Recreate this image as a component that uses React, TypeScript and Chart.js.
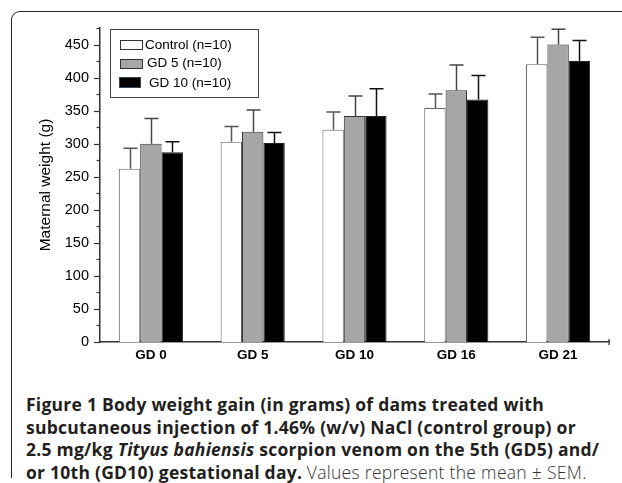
import React, { useEffect, useRef } from "react";
import { Chart, registerables } from "chart.js";

Chart.register(...registerables);

const categories = ["GD 0", "GD 5", "GD 10", "GD 16", "GD 21"];
const seriesNames = ["Control (n=10)", "GD 5 (n=10)", "GD 10 (n=10)"];
const controlMeans = [262, 303, 321, 354, 420];
const gd5Means = [300, 318, 342, 381, 450];
const gd10Means = [287, 301, 342, 367, 425];
const controlSem = [31, 23, 27, 21, 41];
const gd5Sem = [38, 33, 30, 38, 23];
const gd10Sem = [16, 16, 41, 36, 31];
const yTickValues = [0, 50, 100, 150, 200, 250, 300, 350, 400, 450];

const fills = ["#ffffff", "#a6a6a6", "#000000"];
const borders = ["#666666", "#333333", "#222222"];
const errColors = ["#555555", "#444444", "#111111"];

const semList = [controlSem, gd5Sem, gd10Sem];

const errorBarPlugin = {
  id: "errorBars",
  afterDatasetsDraw(chart: any) {
    const ctx = chart.ctx;
    const yScale = chart.scales.y;
    chart.data.datasets.forEach((ds: any, di: number) => {
      const meta = chart.getDatasetMeta(di);
      meta.data.forEach((bar: any, i: number) => {
        const v = ds.data[i];
        const e = semList[di][i];
        const yTop = yScale.getPixelForValue(v + e);
        const x = Math.round(bar.x) + 0.5;
        ctx.save();
        ctx.strokeStyle = errColors[di];
        ctx.lineWidth = 1.5;
        ctx.beginPath();
        ctx.moveTo(x, bar.y);
        ctx.lineTo(x, yTop);
        ctx.moveTo(x - 7, yTop);
        ctx.lineTo(x + 7, yTop);
        ctx.stroke();
        ctx.restore();
      });
    });
  },
};

const axisDecorPlugin = {
  id: "axisDecor",
  afterDraw(chart: any) {
    const ctx = chart.ctx;
    const yScale = chart.scales.y;
    const area = chart.chartArea;
    ctx.save();
    ctx.strokeStyle = "#333333";
    ctx.lineWidth = 1.2;
    for (let v = 0; v <= yScale.max; v += 25) {
      const y = Math.round(yScale.getPixelForValue(v)) + 0.5;
      const len = v % 50 === 0 ? 6 : 3.5;
      ctx.beginPath();
      ctx.moveTo(area.left - len, y);
      ctx.lineTo(area.left, y);
      ctx.stroke();
    }
    ctx.beginPath();
    ctx.moveTo(area.right, area.bottom - 3);
    ctx.lineTo(area.right, area.bottom + 3);
    ctx.stroke();

    const lx = area.left + 10;
    const ly = area.top + 1;
    const lw = 148;
    const lh = 68;
    ctx.strokeStyle = "#444444";
    ctx.lineWidth = 1;
    ctx.strokeRect(lx + 0.5, ly + 0.5, lw, lh);
    const rows = [
      { sx: lx + 10, sy: ly + 11, sw: 22, sh: 9, tx: lx + 35, ty: ly + 16 },
      { sx: lx + 10, sy: ly + 30, sw: 22, sh: 9, tx: lx + 37, ty: ly + 34.5 },
      { sx: lx + 9, sy: ly + 48, sw: 21, sh: 10, tx: lx + 39, ty: ly + 54 },
    ];
    ctx.font = "13.5px Arial, 'Liberation Sans', sans-serif";
    ctx.textBaseline = "middle";
    ctx.textAlign = "left";
    rows.forEach((r, i) => {
      ctx.fillStyle = fills[i];
      ctx.fillRect(r.sx, r.sy, r.sw, r.sh);
      ctx.strokeStyle = i === 2 ? "#334455" : "#333333";
      ctx.lineWidth = 1;
      ctx.strokeRect(r.sx + 0.5, r.sy + 0.5, r.sw, r.sh);
      ctx.fillStyle = "#000000";
      ctx.fillText(seriesNames[i], r.tx, r.ty);
    });
    ctx.restore();
  },
};

export default function App() {
  const canvasRef = useRef<HTMLCanvasElement | null>(null);

  useEffect(() => {
    const canvas = canvasRef.current;
    if (!canvas) return;
    const chart = new Chart(canvas, {
      type: "bar",
      data: {
        labels: categories,
        datasets: [
          { label: seriesNames[0], data: controlMeans, backgroundColor: fills[0], borderColor: borders[0], borderWidth: 1 },
          { label: seriesNames[1], data: gd5Means, backgroundColor: fills[1], borderColor: borders[1], borderWidth: 1 },
          { label: seriesNames[2], data: gd10Means, backgroundColor: fills[2], borderColor: borders[2], borderWidth: 1 },
        ],
      },
      options: {
        animation: false,
        responsive: false,
        maintainAspectRatio: false,
        devicePixelRatio: 1,
        layout: { padding: { left: 36, right: 13, top: 28, bottom: 0 } },
        datasets: { bar: { categoryPercentage: 0.63, barPercentage: 1 } },
        plugins: {
          legend: { display: false },
          tooltip: { enabled: false },
        },
        scales: {
          x: {
            grid: { display: false, drawTicks: false },
            border: { display: true, color: "#333333", width: 1.5 },
            ticks: {
              color: "#000000",
              padding: 5,
              font: { family: "Arial, 'Liberation Sans', sans-serif", size: 13.5, weight: "bold" },
            },
            afterFit(scale: any) {
              scale.height = 28;
            },
          },
          y: {
            min: 0,
            max: 475,
            afterBuildTicks(scale: any) {
              scale.ticks = yTickValues.map((v) => ({ value: v }));
            },
            grid: { display: false, drawTicks: false },
            border: { display: true, color: "#333333", width: 1.5 },
            ticks: {
              color: "#000000",
              padding: 11,
              font: { family: "Arial, 'Liberation Sans', sans-serif", size: 14.5 },
            },
            title: {
              display: true,
              text: "Maternal weight (g)",
              color: "#000000",
              font: { family: "Arial, 'Liberation Sans', sans-serif", size: 15.5 },
              padding: 0,
            },
            afterFit(scale: any) {
              scale.width = 64;
            },
          },
        },
      },
      plugins: [errorBarPlugin, axisDecorPlugin],
    } as any);
    return () => chart.destroy();
  }, []);

  const boldStyle: React.CSSProperties = { fontWeight: 700, letterSpacing: "0.25px" };

  return (
    <div style={{ position: "absolute", left: 0, top: 0, width: 622, height: 483, overflow: "hidden", background: "#ffffff" }}>
      <div
        style={{
          position: "absolute",
          left: 11,
          top: 11,
          width: 700,
          height: 467,
          borderTop: "1.5px solid #222",
          borderLeft: "1.5px solid #222",
          borderTopLeftRadius: 9,
          boxSizing: "border-box",
        }}
      />
      <canvas ref={canvasRef} width={622} height={370} style={{ position: "absolute", left: 0, top: 0, width: 622, height: 370 }} />
      <div
        style={{
          position: "absolute",
          left: 26,
          top: 393,
          width: 596,
          fontFamily: "'Open Sans', Lato, sans-serif",
          fontSize: 17.5,
          lineHeight: "22.5px",
          color: "#231f20",
          whiteSpace: "nowrap",
        }}
      >
        <span style={boldStyle}>Figure 1 Body weight gain (in grams) of dams treated with</span>
        <br />
        <span style={boldStyle}>subcutaneous injection of 1.46% (w/v) NaCl (control group) or</span>
        <br />
        <span style={boldStyle}>
          2.5 mg/kg <i>Tityus bahiensis</i> scorpion venom on the 5th (GD5) and/
        </span>
        <br />
        <span style={boldStyle}>or 10th (GD10) gestational day.</span>{" "}
        <span style={{ fontWeight: 300, fontSize: 17.5, letterSpacing: "0.3px", color: "#333" }}>Values represent the mean ± SEM.</span>
      </div>
    </div>
  );
}
